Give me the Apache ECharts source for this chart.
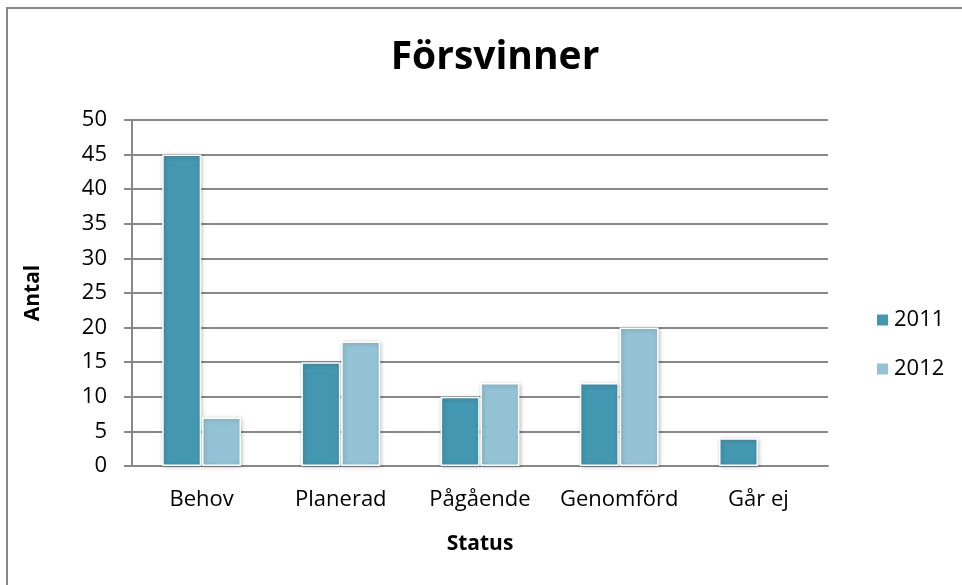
<!DOCTYPE html>
<html><head><meta charset="utf-8">
<script src="https://cdn.jsdelivr.net/npm/echarts@6/dist/echarts.min.js"></script>
<style>html,body{margin:0;padding:0;background:#fff}#c{width:962px;height:585px;position:relative}</style>
</head><body><div id="c"></div>
<script>
var categories = ['Behov', 'Planerad', 'Pågående', 'Genomförd', 'Går ej'];
var seriesNames = ['2011', '2012'];
var values2011 = [45, 15, 10, 12, 4];
var values2012 = [7, 18, 12, 20, null];
var yTicks = [0, 5, 10, 15, 20, 25, 30, 35, 40, 45, 50];

var font = '"Open Sans", "Noto Sans", sans-serif';
var chart = echarts.init(document.getElementById('c'));
var barStyle = function (color) {
  return { color: color, borderColor: '#ffffff', borderWidth: 1.5, shadowColor: 'rgba(0,0,0,0.25)', shadowBlur: 4, shadowOffsetX: 1, shadowOffsetY: 1 };
};
chart.setOption({
  animation: false,
  graphic: [{ type: 'polyline', shape: { points: [[7, 585], [7, 8], [962, 8]] }, style: { stroke: '#888', lineWidth: 2, fill: null } }],
  title: { text: 'Försvinner', left: 490, top: 33, textAlign: 'center', textStyle: { fontFamily: font, fontSize: 39, fontWeight: 'bold', color: '#000' } },
  legend: {
    orient: 'vertical', left: 870, top: 304, itemGap: 27, itemWidth: 13, itemHeight: 13,
    icon: 'rect', data: seriesNames,
    textStyle: { fontFamily: font, fontSize: 22, color: '#000', padding: [0, 0, 0, 0] }
  },
  grid: { left: 132, top: 120, width: 696, height: 346, containLabel: false },
  xAxis: {
    type: 'category', data: categories, name: 'Status', nameLocation: 'middle', nameGap: 68,
    nameTextStyle: { fontFamily: font, fontSize: 21, fontWeight: 'bold', color: '#000' },
    axisLine: { show: true, lineStyle: { color: '#888', width: 2 } },
    axisTick: { show: false },
    axisLabel: { interval: 0, hideOverlap: false, fontFamily: font, fontSize: 22, color: '#000', margin: 23 }
  },
  yAxis: {
    type: 'value', min: yTicks[0], max: yTicks[yTicks.length - 1], interval: 5,
    name: 'Antal', nameLocation: 'middle', nameGap: 88, nameRotate: 90,
    nameTextStyle: { fontFamily: font, fontSize: 21, fontWeight: 'bold', color: '#000' },
    axisLine: { show: true, lineStyle: { color: '#888', width: 2 } },
    axisTick: { show: true, length: 8, lineStyle: { color: '#888', width: 2 } },
    splitLine: { show: true, lineStyle: { color: '#888', width: 2 } },
    axisLabel: { fontFamily: font, fontSize: 22, color: '#000', margin: 25 }
  },
  series: [
    { name: seriesNames[0], type: 'bar', data: values2011, barWidth: 39, barGap: '2%', itemStyle: barStyle('#4397b0') },
    { name: seriesNames[1], type: 'bar', data: values2012, barWidth: 39, barGap: '2%', itemStyle: barStyle('#93c3d5') }
  ]
});
</script></body></html>
